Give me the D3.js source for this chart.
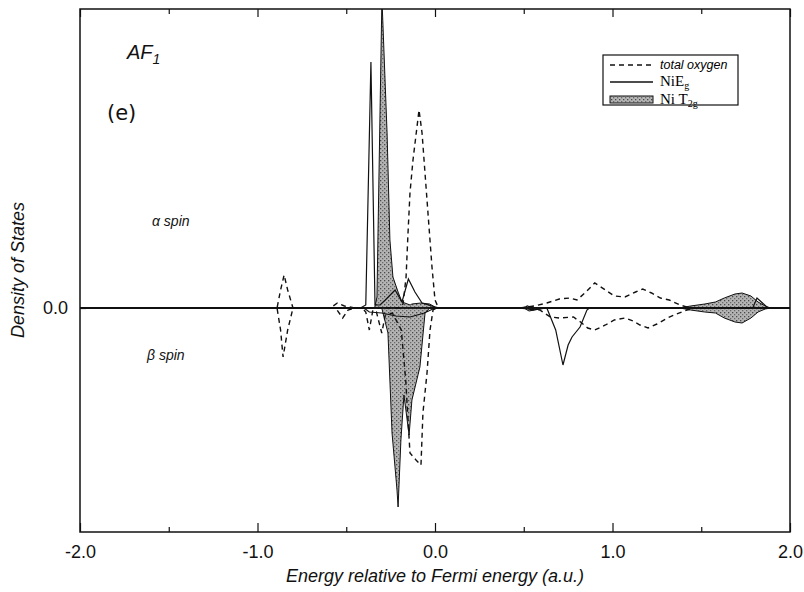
<!DOCTYPE html>
<html>
<head>
<meta charset="utf-8">
<script src="https://cdn.jsdelivr.net/npm/d3@7"></script>
<style>
body{margin:0;background:#fff;}
svg{display:block;}
.tick text{font-family:"Liberation Sans",Arial,sans-serif;font-size:18px;fill:#111;}
</style>
</head>
<body>
<svg></svg>
<script>
//x axis tick labels and the y axis one
var xTicks = [-2, -1, 0, 1, 2]
var xMinorTicks = [-1.5, -0.5, 0.5, 1.5]
var yTicks = [0]

//each series is [energy, density] ; alpha spin is up, beta spin is down
var oxygenAlpha = [[-2,0],[-0.89,0],[-0.87,0.18],[-0.85,0.33],[-0.83,0.18],[-0.80,0],
    [-0.59,0],[-0.55,0.05],[-0.51,0.02],[-0.45,0],
    [-0.20,0],[-0.18,0.04],[-0.163,0.31],[-0.152,0.75],[-0.141,1.15],[-0.124,1.48],[-0.09,1.98],
    [-0.073,1.75],[-0.045,1.08],[-0.017,0.41],[0.0,0.08],[0.02,0],
    [0.48,0],[0.56,0.02],[0.63,0.05],[0.70,0.09],[0.76,0.10],[0.80,0.08],[0.85,0.16],[0.90,0.25],
    [0.96,0.18],[1.01,0.12],[1.07,0.11],[1.13,0.16],[1.17,0.19],[1.22,0.15],[1.27,0.10],[1.32,0.08],
    [1.38,0.03],[1.44,0],[2,0]]

var oxygenBeta = [[-2,0],[-0.89,0],[-0.87,-0.22],[-0.856,-0.49],[-0.83,-0.22],[-0.80,0],
    [-0.56,0],[-0.52,-0.10],[-0.49,-0.02],[-0.45,0],
    [-0.41,0],[-0.39,-0.04],[-0.37,-0.22],[-0.35,-0.02],[-0.33,-0.04],[-0.30,-0.25],[-0.28,-0.07],
    [-0.24,-0.05],[-0.19,-0.22],[-0.165,-0.72],[-0.152,-1.12],[-0.141,-1.45],[-0.107,-1.52],
    [-0.079,-1.57],[-0.068,-1.05],[-0.045,-0.65],[-0.028,-0.22],[-0.011,-0.02],[0.01,0],
    [0.48,0],[0.59,-0.02],[0.65,-0.09],[0.70,-0.10],[0.78,-0.09],[0.82,-0.14],[0.86,-0.20],[0.90,-0.22],
    [0.96,-0.17],[1.01,-0.12],[1.07,-0.10],[1.115,-0.13],[1.155,-0.17],[1.20,-0.20],[1.25,-0.16],
    [1.31,-0.10],[1.36,-0.06],[1.42,-0.02],[1.47,0],[2,0]]

var niEgAlpha = [[-2,0],[-0.42,0],[-0.39,0.03],[-0.361,2.46],[-0.338,0.03],[-0.31,0.03],[-0.28,0.08],
    [-0.225,0.18],[-0.186,0.06],[-0.15,0.29],[-0.113,0.16],[-0.073,0.05],[0,0.01],[0.03,0],
    [0.50,0],[0.52,0.02],[0.55,0],
    [1.79,0],[1.814,0.10],[1.876,0],[2,0]]

var niEgBeta = [[-2,0],[-0.40,0],[-0.37,-0.04],[-0.30,-0.05],[-0.22,-0.08],[-0.14,-0.09],[-0.06,-0.05],[0,0],
    [0.50,0],[0.55,-0.02],[0.63,0],[0.68,-0.22],[0.721,-0.57],[0.75,-0.37],[0.772,-0.29],[0.817,-0.19],
    [0.856,-0.02],[0.87,0],[2,0]]

var niT2gAlpha = [[-2,0],[-0.34,0],[-0.327,0.11],[-0.299,3.1],[-0.270,1.75],[-0.254,0.68],[-0.237,0.31],
    [-0.208,0.16],[-0.186,0.06],[-0.14,0.03],[-0.13,0.04],[-0.08,0.05],[-0.03,0.04],[0,0.01],[0.02,0],
    [1.38,0],[1.44,0.02],[1.52,0.04],[1.58,0.06],[1.63,0.10],[1.69,0.14],[1.73,0.15],[1.78,0.12],
    [1.82,0.06],[1.86,0.02],[1.89,0],[2,0]]

var niT2gBeta = [[-2,0],[-0.30,0],[-0.293,-0.05],[-0.265,-0.25],[-0.242,-1.25],[-0.214,-1.82],[-0.208,-1.99],
    [-0.192,-1.32],[-0.175,-0.87],[-0.146,-1.27],[-0.130,-0.92],[-0.085,-0.59],[-0.056,-0.05],[-0.03,0],
    [0.50,0],[0.53,-0.03],[0.59,-0.01],[0.62,0],
    [1.38,0],[1.44,-0.02],[1.52,-0.04],[1.58,-0.05],[1.63,-0.10],[1.69,-0.14],[1.73,-0.15],[1.78,-0.10],
    [1.82,-0.04],[1.86,-0.01],[1.89,0],[2,0]]

var makeTranslateString = function(x,y)
{
    return "translate("+x+","+y+")";
}

var fmt = function(d){ return d.toFixed(1); }

var drawCurves = function(target,xScale,yScale)
{
    var area = d3.area()
        .x(function(d){ return xScale(d[0]); })
        .y0(yScale(0))
        .y1(function(d){ return yScale(d[1]); })

    var line = d3.line()
        .x(function(d){ return xScale(d[0]); })
        .y(function(d){ return yScale(d[1]); })

    target.selectAll("path.t2g")
        .data([niT2gAlpha,niT2gBeta])
        .enter()
        .append("path")
        .classed("t2g",true)
        .attr("d",area)
        .attr("fill","url(#stipple)")
        .attr("stroke","#111")
        .attr("stroke-width",1)

    target.selectAll("path.eg")
        .data([niEgAlpha,niEgBeta])
        .enter()
        .append("path")
        .classed("eg",true)
        .attr("d",line)
        .attr("fill","none")
        .attr("stroke","#111")
        .attr("stroke-width",1.2)

    target.selectAll("path.oxy")
        .data([oxygenAlpha,oxygenBeta])
        .enter()
        .append("path")
        .classed("oxy",true)
        .attr("d",line)
        .attr("fill","none")
        .attr("stroke","#111")
        .attr("stroke-width",1.4)
        .attr("stroke-dasharray","5,4")

    //zero line
    target.append("line")
        .attr("x1",xScale(-2)).attr("x2",xScale(2))
        .attr("y1",yScale(0)).attr("y2",yScale(0))
        .attr("stroke","#111")
        .attr("stroke-width",1.3)
}

var drawAxes = function(svg,margins,graph,xScale,yScale)
{
    svg.append("g")
        .attr("transform",makeTranslateString(0,margins.top+graph.height))
        .call(d3.axisBottom(xScale).tickValues(xTicks).tickFormat(fmt)
              .tickSizeInner(-9).tickSizeOuter(0).tickPadding(13))
    svg.append("g")
        .attr("transform",makeTranslateString(0,margins.top+graph.height))
        .call(d3.axisBottom(xScale).tickValues(xMinorTicks).tickFormat("")
              .tickSizeInner(-5).tickSizeOuter(0))
    svg.append("g")
        .attr("transform",makeTranslateString(0,margins.top))
        .call(d3.axisTop(xScale).tickValues(xTicks).tickFormat("")
              .tickSizeInner(-8).tickSizeOuter(0))
    svg.append("g")
        .attr("transform",makeTranslateString(0,margins.top))
        .call(d3.axisTop(xScale).tickValues(xMinorTicks).tickFormat("")
              .tickSizeInner(-5).tickSizeOuter(0))
    svg.append("g")
        .attr("transform",makeTranslateString(margins.left,0))
        .call(d3.axisLeft(yScale).tickValues(yTicks).tickFormat(fmt)
              .tickSizeInner(-6).tickSizeOuter(0).tickPadding(12))

    svg.selectAll(".domain").remove()
    svg.selectAll(".tick line").attr("stroke","#111").attr("stroke-width",1.2)

    svg.append("rect")
        .attr("x",margins.left)
        .attr("y",margins.top)
        .attr("width",graph.width)
        .attr("height",graph.height)
        .attr("fill","none")
        .attr("stroke","#111")
        .attr("stroke-width",1.5)
}

var drawLabels = function(svg,margins,graph)
{
    var labels = svg.append("g")
        .style("font-family","'Liberation Sans',Arial,sans-serif")
        .attr("fill","#111")

    labels.append("text")
        .text("Energy relative to Fermi energy (a.u.)")
        .attr("x",margins.left+graph.width/2)
        .attr("y",582)
        .attr("text-anchor","middle")
        .attr("font-size",18)
        .attr("font-style","italic")

    labels.append("text")
        .text("Density of States")
        .attr("transform","translate(24,270) rotate(-90)")
        .attr("text-anchor","middle")
        .attr("font-size",18)
        .attr("font-style","italic")

    var af = labels.append("text")
        .attr("x",127).attr("y",59)
        .attr("font-size",20)
        .attr("font-style","italic")
    af.append("tspan").text("AF")
    af.append("tspan").text("1").attr("font-size",14).attr("dy",5)

    labels.append("text")
        .text("(e)")
        .attr("x",107).attr("y",120)
        .attr("font-size",21)
        .style("font-family","'DejaVu Sans',sans-serif")

    labels.append("text")
        .text("\u03b1 spin")
        .attr("x",152).attr("y",226)
        .attr("font-size",14)
        .attr("font-style","italic")

    labels.append("text")
        .text("\u03b2 spin")
        .attr("x",147).attr("y",360)
        .attr("font-size",14)
        .attr("font-style","italic")
}

var drawLegend = function(svg)
{
    var legend = svg.append("g").attr("transform",makeTranslateString(603,55))

    legend.append("rect")
        .attr("width",135).attr("height",50)
        .attr("fill","#fff").attr("stroke","#111").attr("stroke-width",1.2)

    legend.append("line")
        .attr("x1",7).attr("x2",50).attr("y1",10).attr("y2",10)
        .attr("stroke","#111").attr("stroke-width",1.4).attr("stroke-dasharray","5,4")
    legend.append("text")
        .text("total oxygen")
        .attr("x",57).attr("y",14)
        .attr("font-size",12.5)
        .attr("font-style","italic")
        .style("font-family","'Liberation Sans',Arial,sans-serif")

    legend.append("line")
        .attr("x1",7).attr("x2",50).attr("y1",27).attr("y2",27)
        .attr("stroke","#111").attr("stroke-width",1.3)
    var eg = legend.append("text")
        .attr("x",57).attr("y",31)
        .attr("font-size",15)
        .style("font-family","'Liberation Serif','Times New Roman',serif")
    eg.append("tspan").text("NiE")
    eg.append("tspan").text("g").attr("font-size",10).attr("dy",3)

    legend.append("rect")
        .attr("x",7).attr("y",41).attr("width",43).attr("height",7)
        .attr("fill","url(#stipple)").attr("stroke","#111").attr("stroke-width",1)
    var t2 = legend.append("text")
        .attr("x",57).attr("y",49)
        .attr("font-size",15)
        .style("font-family","'Liberation Serif','Times New Roman',serif")
    t2.append("tspan").text("Ni T")
    t2.append("tspan").text("2g").attr("font-size",10).attr("dy",3)
}

var initGraph = function()
{
    var screen = {width:804,height:592}
    var margins = {left:80,right:14,top:9,bottom:60}
    var graph =
        {
            width:screen.width-margins.left-margins.right,
            height:screen.height-margins.top-margins.bottom
        }

    var svg = d3.select("svg")
        .attr("width",screen.width)
        .attr("height",screen.height)

    var defs = svg.append("defs")
    var pat = defs.append("pattern")
        .attr("id","stipple")
        .attr("patternUnits","userSpaceOnUse")
        .attr("width",4).attr("height",4)
    pat.append("rect").attr("width",4).attr("height",4).attr("fill","#b4b4b4")
    pat.append("rect").attr("x",0).attr("y",0).attr("width",1.3).attr("height",1.3).attr("fill","#4a4a4a")
    pat.append("rect").attr("x",2).attr("y",2).attr("width",1.3).attr("height",1.3).attr("fill","#6a6a6a")

    defs.append("clipPath").attr("id","plotclip")
        .append("rect")
        .attr("x",margins.left).attr("y",margins.top)
        .attr("width",graph.width).attr("height",graph.height)

    var xScale = d3.scaleLinear()
        .domain([-2,2])
        .range([margins.left,margins.left+graph.width])

    //0 sits at y=308, 100px per unit
    var yScale = d3.scaleLinear()
        .domain([-2.24,2.99])
        .range([margins.top+graph.height,margins.top])

    var target = svg.append("g")
        .attr("clip-path","url(#plotclip)")

    drawCurves(target,xScale,yScale)
    drawAxes(svg,margins,graph,xScale,yScale)
    drawLabels(svg,margins,graph)
    drawLegend(svg)
}

initGraph()
</script>
</body>
</html>
